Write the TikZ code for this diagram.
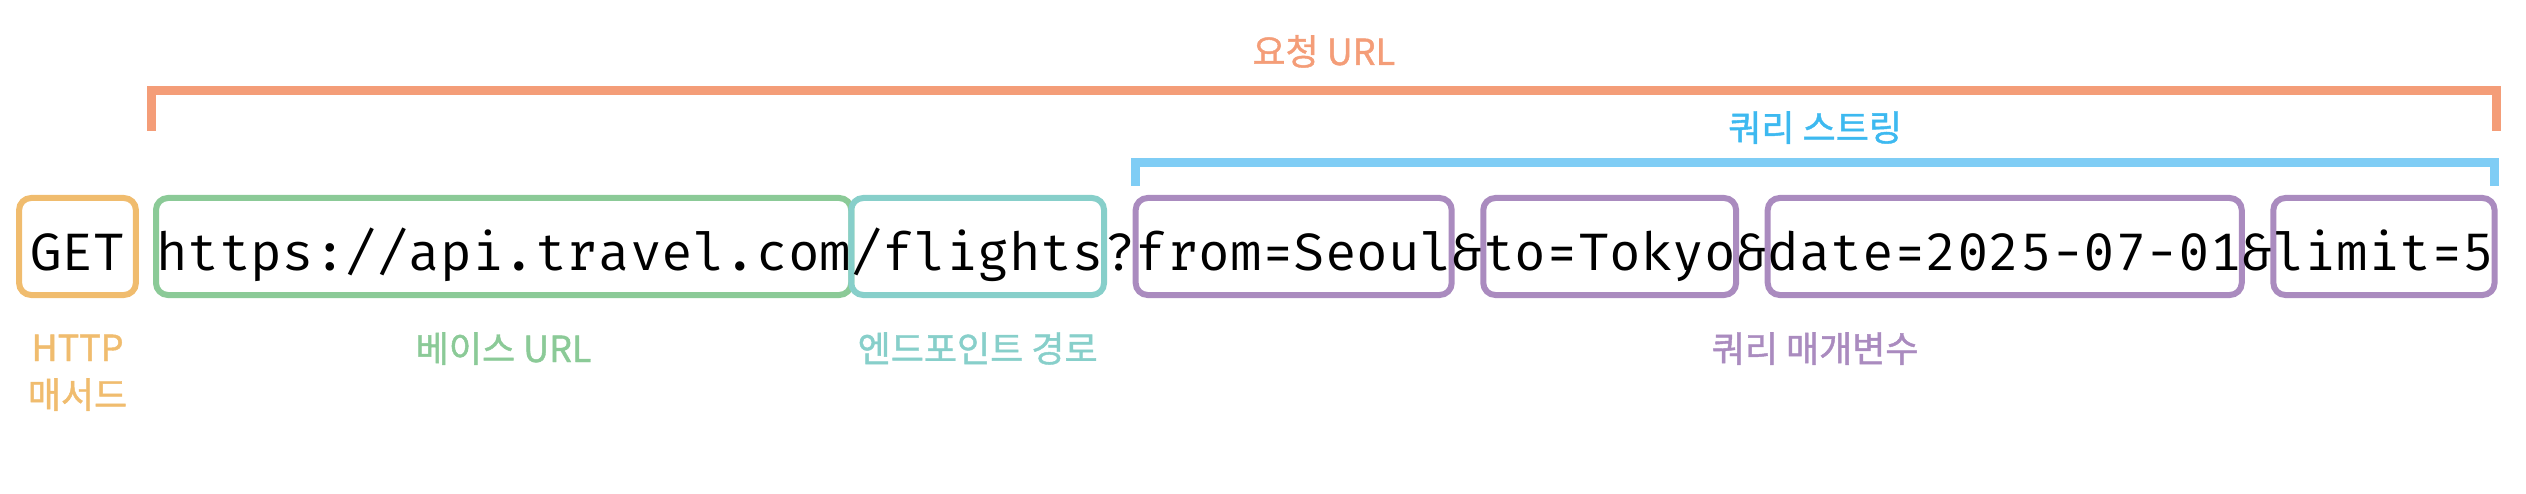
\documentclass[tikz,border=0pt]{standalone}
\usepackage{fontspec}
\newfontfamily\codefont{Fira Mono}
\newfontfamily\krfont[FakeBold=1.2]{Noto Sans CJK KR}
\usetikzlibrary{calc}
\definecolor{cOrange}{HTML}{F49D78}
\definecolor{cQsText}{HTML}{3DB9F0}
\definecolor{cQsBr}{HTML}{7FCDF5}
\definecolor{cGet}{HTML}{F0BC6E}
\definecolor{cBase}{HTML}{8BCA97}
\definecolor{cPath}{HTML}{87CFCA}
\definecolor{cParam}{HTML}{AA8BBF}
\begin{document}
\begin{tikzpicture}[x=1pt,y=-1pt,
  seg/.style={inner xsep=0pt, inner ysep=0pt, outer sep=0pt,
    text height=72pt, text depth=25pt,
    font=\codefont\fontsize{52.67}{60}\selectfont,
    anchor=base west, line width=6pt, rounded corners=12pt},
  lbl/.style={font=\krfont\fontsize{36}{47}\selectfont, anchor=base,
    inner sep=0pt, align=center},
  brk/.style={line width=9pt, line join=miter, line cap=butt}
]
\useasboundingbox (0,0) rectangle (2526,494);
% code segments
\node[seg, draw=cGet, anchor=base, inner xsep=11pt] (get) at (77.5,270) {GET};
\node[seg, draw=cBase] (base) at (156,270) {https://api.travel.com};
\node[seg, draw=cPath] (path) at (base.base east) {/flights};
\node[seg] (qm) at (path.base east) {?};
\node[seg, draw=cParam] (p1) at (qm.base east) {from=Seoul};
\node[seg] (a1) at (p1.base east) {\&};
\node[seg, draw=cParam] (p2) at (a1.base east) {to=Tokyo};
\node[seg] (a2) at (p2.base east) {\&};
\node[seg, draw=cParam] (p3) at (a2.base east) {date=2025-07-01};
\node[seg] (a3) at (p3.base east) {\&};
\node[seg, draw=cParam] (p4) at (a3.base east) {limit=5};
% brackets
\coordinate (rl) at ([xshift=-5pt]base.west);
\coordinate (rr) at ([xshift=2pt]p4.east);
\coordinate (omid) at ($(rl)!0.5!(rr)$);
\draw[brk, draw=cOrange] (rl |- 0,131) -- (rl |- 0,91) -- (rr |- 0,91) -- (rr |- 0,131);
\coordinate (bl) at (p1.west);
\coordinate (br) at (p4.east);
\coordinate (bmid) at ($(bl)!0.5!(br)$);
\draw[brk, draw=cQsBr] (bl |- 0,186) -- (bl |- 0,162.5) -- (br |- 0,162.5) -- (br |- 0,186);
% labels
\node[lbl, text=cOrange] (lreq) at (omid |- 0,65) {요청 URL};
\node[lbl, text=cQsText] (lqs) at (bmid |- 0,141) {쿼리 스트링};
\node[lbl, text=cGet] (lget) at (get.base |- 0,408) {HTTP\\매서드};
\node[lbl, text=cBase] (lbase) at (base.base |- 0,362) {베이스 URL};
\node[lbl, text=cPath] (lpath) at (path.base |- 0,362) {엔드포인트 경로};
\coordinate (pmid) at ($(p1.west)!0.5!(p4.east)$);
\node[lbl, text=cParam] (lparam) at (pmid |- 0,362) {쿼리 매개변수};
\end{tikzpicture}
\end{document}
